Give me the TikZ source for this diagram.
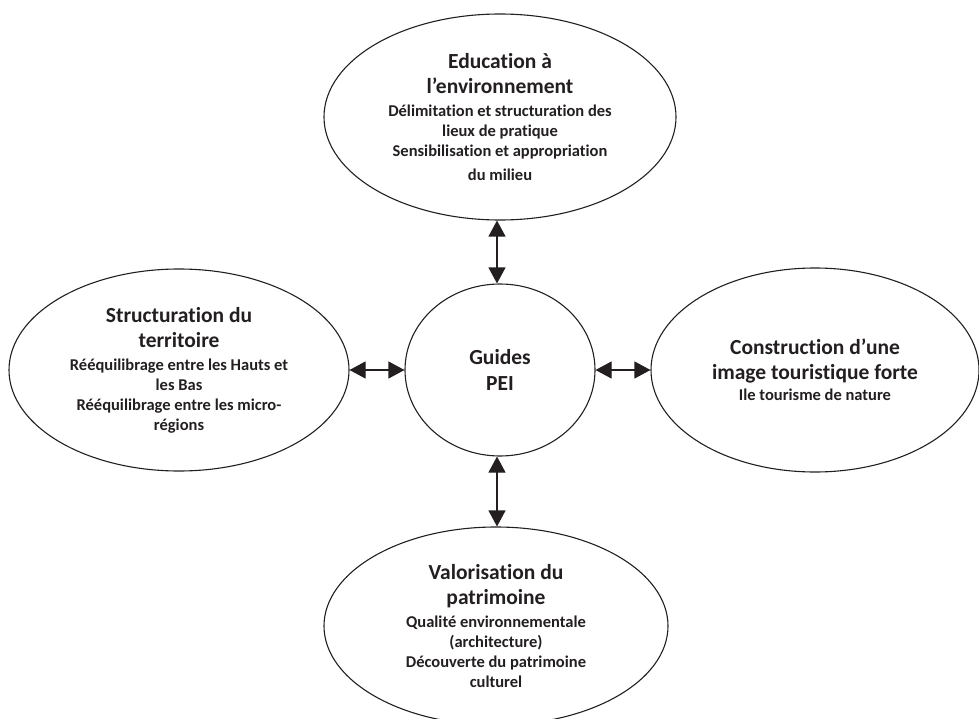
\documentclass[tikz,border=0pt]{standalone}
\usepackage{fontspec}
\setmainfont[Ligatures=NoCommon]{Carlito}
\usetikzlibrary{arrows.meta,shapes.geometric}
\definecolor{ink}{HTML}{231F20}
\newcommand{\titf}{\fontsize{21.5}{25}\selectfont}
\newcommand{\subf}{\fontsize{16.5}{20}\selectfont}
\tikzset{
  bubble/.style={ellipse, draw=ink, line width=1.1pt, inner sep=0pt, align=center,
    text=ink, font=\bfseries\subf},
  link/.style={draw=ink, line width=1.1pt, {Triangle[length=16pt,width=17pt]}-{Triangle[length=16pt,width=17pt]}}
}
\begin{document}
\begin{tikzpicture}[x=1pt,y=-1pt]
\useasboundingbox (0,0) rectangle (979,719);
\node[bubble, minimum width=352pt, minimum height=206pt] (top) at (500,117)
  {{\titf Education à}\\[5pt]{\titf l’environnement}\\[3pt]Délimitation et structuration des\\lieux de pratique\\Sensibilisation et appropriation\\[4pt]du milieu};
\node[bubble, minimum width=190pt, minimum height=172pt] (c) at (500,370)
  {{\titf Guides}\\[6pt]{\titf PEI}};
\node[bubble, minimum width=340pt, minimum height=202pt] (left) at (179,370)
  {{\titf Structuration du}\\[5pt]{\titf territoire}\\[3pt]Rééquilibrage entre les Hauts et\\les Bas\\Rééquilibrage entre les micro-\\régions};
\node[bubble, minimum width=328pt, minimum height=204pt] (right) at (815,370)
  {{\titf Construction d’une}\\[5pt]{\titf image touristique forte}\\[1pt]Ile tourisme de nature};
\node[bubble, minimum width=344pt, minimum height=198pt] (bot) at (496,626)
  {{\titf Valorisation du}\\[5pt]{\titf patrimoine}\\[3pt]Qualité environnementale\\(architecture)\\Découverte du patrimoine\\culturel};
\draw[link] (top.south -| 497,0) -- (c.north -| 497,0);
\draw[link] (c.south -| 497,0) -- (bot.north -| 497,0);
\draw[link] (left.east) -- (c.west);
\draw[link] (c.east) -- (right.west);
\end{tikzpicture}
\end{document}
